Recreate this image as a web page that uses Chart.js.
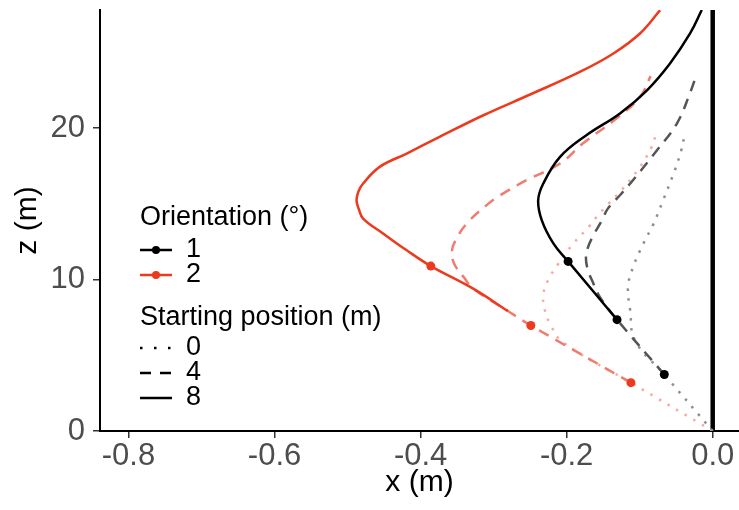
<!DOCTYPE html>
<html>
<head>
<meta charset="utf-8">
<script src="https://cdn.jsdelivr.net/npm/chart.js@4/dist/chart.umd.min.js"></script>
<style>
  html, body { margin: 0; padding: 0; background: #fff; }
</style>
</head>
<body>
<canvas id="chart" width="739" height="510"></canvas>
<script>
// legend groups
const orientations = ['1', '2'];
const startPositions = ['0', '4', '8'];

// axis ticks
const xTicks = [-0.8, -0.6, -0.4, -0.2, 0.0];
const zTicks = [0, 10, 20];

// orientation 1, starting position 0 / 4 / 8
const o1s0X = [0, -0.0663, -0.1064, -0.113, -0.116, -0.109, -0.095, -0.081, -0.068, -0.052, -0.043, -0.039];
const o1s0Z = [0, 3.73, 5.98, 7.96, 9.50, 10.83, 12.37, 13.69, 15.23, 17.2, 18.54, 19.42];
const o1s4X = [-0.0663, -0.131, -0.1544, -0.1653, -0.1708, -0.1736, -0.1708, -0.1626, -0.1516, -0.1434, -0.127, -0.1092, -0.0763, -0.0489, -0.0311, -0.0229];
const o1s4Z = [3.73, 7.35, 8.84, 9.95, 10.61, 11.40, 12.13, 12.99, 13.91, 14.70, 15.57, 16.56, 18.54, 20.32, 22.31, 23.43];
const o1s8X = [-0.131, -0.198, -0.218, -0.234, -0.239, -0.232, -0.209, -0.173, -0.127, -0.090, -0.0585, -0.031, -0.015];
const o1s8Z = [7.35, 11.2, 12.37, 13.91, 15.23, 16.34, 18.1, 19.53, 20.97, 22.5, 24.27, 26.25, 27.8];

// orientation 2, starting position 0 / 4 / 8
const o2s0X = [0, -0.112, -0.205, -0.222, -0.230, -0.232, -0.225, -0.212, -0.191, -0.168, -0.159, -0.143, -0.125, -0.0996, -0.0836, -0.0777];
const o2s0Z = [0, 3.19, 5.85, 7.0, 8.0, 9.0, 10.0, 11.0, 12.37, 13.58, 14.13, 15.0, 15.9, 17.44, 18.76, 19.6];
const o2s4X = [-0.112, -0.249, -0.2804, -0.328, -0.340, -0.354, -0.357, -0.352, -0.337, -0.310, -0.291, -0.255, -0.209, -0.178, -0.132, -0.0996, -0.085];
const o2s4Z = [3.19, 6.97, 7.92, 9.40, 10.1, 11.05, 11.9, 12.6, 13.69, 14.9, 15.56, 16.56, 17.66, 18.98, 20.63, 22.06, 23.43];
const o2s8X = [-0.2804, -0.328, -0.386, -0.419, -0.451, -0.4787, -0.4845, -0.4877, -0.4852, -0.4787, -0.456, -0.419, -0.374, -0.314, -0.250, -0.182, -0.136, -0.0996, -0.072];
const o2s8Z = [7.92, 9.40, 10.89, 11.93, 13.03, 14.03, 14.64, 15.23, 15.8, 16.34, 17.44, 18.32, 19.42, 20.85, 22.22, 23.71, 24.93, 26.25, 27.79];

// marked points
const mark1X = [-0.0663, -0.131, -0.198];
const mark1Z = [3.73, 7.35, 11.2];
const mark2X = [-0.112, -0.249, -0.386];
const mark2Z = [3.19, 6.97, 10.89];

const xMin = -0.839;
const xMax = 0.036;
const zMax = 27.8;

const FONT = '"Liberation Sans", Arial, sans-serif';
const orientColors = ['#000000', '#EC3A1E'];
const shadeColors = [
  ['#8E8E8E', '#555555', '#000000'],
  ['#F6ABA3', '#EF7C6E', '#EC3A1E'],
];
const dashes = [[2.5, 7.5], [11, 8], []];

const pts = (xs, zs) => xs.map((x, i) => ({ x: x, y: zs[i] }));

const tracks = [
  [pts(o1s0X, o1s0Z), pts(o1s4X, o1s4Z), pts(o1s8X, o1s8Z)],
  [pts(o2s0X, o2s0Z), pts(o2s4X, o2s4Z), pts(o2s8X, o2s8Z)],
];

const datasets = [];
tracks.forEach((group, o) => {
  group.forEach((data, s) => {
    datasets.push({
      label: `${orientations[o]} / ${startPositions[s]}`,
      data: data,
      showLine: true,
      borderColor: shadeColors[o][s],
      borderWidth: 2.5,
      borderDash: dashes[s],
      pointRadius: 0,
      tension: 0.4,
      order: 3 - s,
    });
  });
});

[pts(mark1X, mark1Z), pts(mark2X, mark2Z)].forEach((data, o) => {
  datasets.push({
    label: `marks ${orientations[o]}`,
    data: data,
    showLine: false,
    pointRadius: 4.5,
    pointBackgroundColor: orientColors[o],
    pointBorderWidth: 0,
    order: 0,
  });
});

// the wall at x = 0
datasets.push({
  label: 'wall',
  data: [{ x: 0, y: 0 }, { x: 0, y: zMax }],
  showLine: true,
  borderColor: '#000',
  borderWidth: 4.5,
  pointRadius: 0,
  order: 5,
});

// two-part legend drawn on the plot
const legendPlugin = {
  id: 'twoLegends',
  afterDraw(chart) {
    const ctx = chart.ctx;
    const left = 140;
    const textX = 186;
    ctx.save();
    ctx.font = `27px ${FONT}`;
    ctx.textBaseline = 'middle';
    ctx.textAlign = 'left';
    ctx.fillStyle = '#000';
    ctx.fillText('Orientation (°)', left, 218);
    orientations.forEach((lab, i) => {
      const y = 250 + i * 25;
      ctx.setLineDash([]);
      ctx.strokeStyle = orientColors[i];
      ctx.lineWidth = 2.5;
      ctx.beginPath();
      ctx.moveTo(left, y);
      ctx.lineTo(left + 32, y);
      ctx.stroke();
      ctx.fillStyle = orientColors[i];
      ctx.beginPath();
      ctx.arc(left + 16, y, 4, 0, Math.PI * 2);
      ctx.fill();
      ctx.fillStyle = '#000';
      ctx.fillText(lab, textX, y);
    });
    ctx.fillText('Starting position (m)', left, 318);
    const legDash = [[2.5, 11.5], [11, 9], []];
    startPositions.forEach((lab, i) => {
      const y = 348 + i * 25;
      ctx.setLineDash(legDash[i]);
      ctx.strokeStyle = '#000';
      ctx.lineWidth = 2.5;
      ctx.beginPath();
      ctx.moveTo(left, y);
      ctx.lineTo(left + 32, y);
      ctx.stroke();
      ctx.setLineDash([]);
      ctx.fillStyle = '#000';
      ctx.fillText(lab, textX, y);
    });
    ctx.restore();
  },
};

new Chart(document.getElementById('chart'), {
  type: 'scatter',
  data: { datasets: datasets },
  plugins: [legendPlugin],
  options: {
    responsive: false,
    animation: false,
    devicePixelRatio: 1,
    layout: { autoPadding: false, padding: { top: 10, right: 0, left: 0, bottom: 0 } },
    plugins: { legend: { display: false }, tooltip: { enabled: false } },
    scales: {
      x: {
        type: 'linear',
        min: xMin,
        max: xMax,
        afterBuildTicks: (scale) => { scale.ticks = xTicks.map((v) => ({ value: v })); },
        afterFit: (scale) => { scale.height = 79; scale.paddingLeft = 0; scale.paddingRight = 0; },
        ticks: {
          callback: (v) => Number(v).toFixed(1),
          color: '#4D4D4D',
          font: { family: FONT, size: 31 },
          padding: 0,
          maxRotation: 0,
          autoSkip: false,
        },
        grid: { drawOnChartArea: false, drawTicks: true, tickLength: 7, color: '#333', lineWidth: 1.5 },
        border: { display: true, color: '#000', width: 2 },
        title: { display: true, text: 'x (m)', color: '#000', font: { family: FONT, size: 30 }, padding: { top: 0, bottom: 9 } },
      },
      y: {
        type: 'linear',
        min: 0,
        max: zMax,
        afterBuildTicks: (scale) => { scale.ticks = zTicks.map((v) => ({ value: v })); },
        afterFit: (scale) => { scale.width = 100; scale.paddingTop = 0; scale.paddingBottom = 0; },
        ticks: {
          color: '#4D4D4D',
          font: { family: FONT, size: 31 },
          padding: 8,
          autoSkip: false,
        },
        grid: { drawOnChartArea: false, drawTicks: true, tickLength: 7, color: '#333', lineWidth: 1.5 },
        border: { display: true, color: '#000', width: 2 },
        title: { display: true, text: 'z (m)', color: '#000', font: { family: FONT, size: 30 }, padding: { top: 10, bottom: 0 } },
      },
    },
  },
});
</script>
</body>
</html>
